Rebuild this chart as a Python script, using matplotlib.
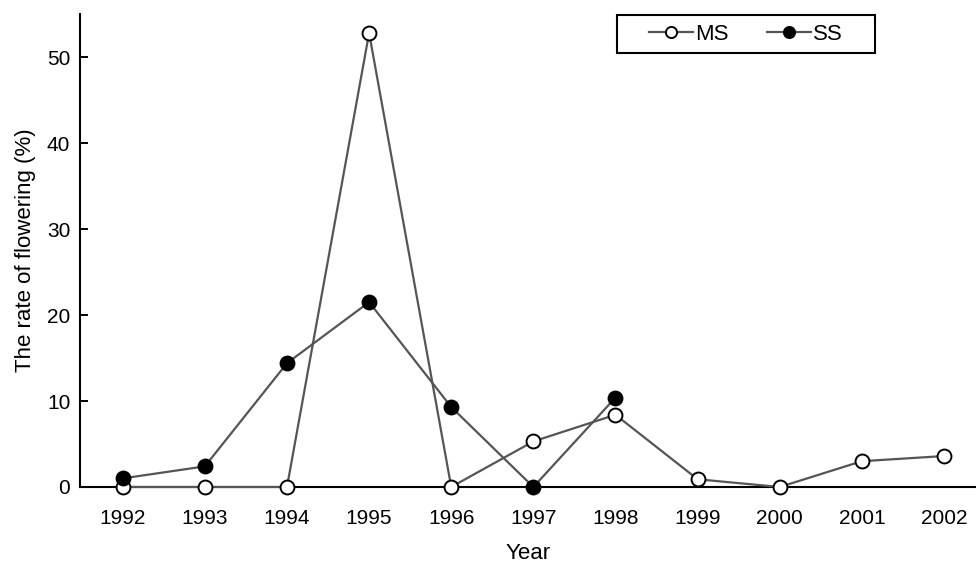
import matplotlib.pyplot as plt
from matplotlib.lines import Line2D
from matplotlib.patches import Rectangle

# flowering rate by year
years = [1992, 1993, 1994, 1995, 1996, 1997, 1998, 1999, 2000, 2001, 2002]
ms_rate = [0, 0, 0, 52.8, 0, 5.3, 8.4, 0.9, 0, 3.0, 3.6]
ss_years = [1992, 1993, 1994, 1995, 1996, 1997, 1998]
ss_rate = [1.0, 2.4, 14.4, 21.5, 9.3, 0, 10.4]

plt.rcParams['font.family'] = ['Liberation Sans', 'DejaVu Sans']

fig = plt.figure(figsize=(9.76, 5.63), dpi=100)
ax = fig.add_axes([0.082, 0.135, 0.918, 0.840])

line_col = '#555555'
style = dict(color=line_col, lw=1.6, marker='o', ms=10, mec='black', mew=1.4)
ax.plot(years, ms_rate, mfc='white', zorder=3, clip_on=False, **style)
ax.plot(ss_years, ss_rate, mfc='black', zorder=4, clip_on=False, **style)

ax.set_xlim(1991.48, 2002.39)
ax.set_ylim(0, 55)
ax.set_xticks(years)
ax.set_xticklabels([str(y) for y in years])
ax.set_yticks([0, 10, 20, 30, 40, 50])
ax.tick_params(axis='x', length=0, pad=16, labelsize=15)
ax.tick_params(axis='y', direction='in', length=6, width=1.4, labelsize=15, pad=7)

ax.spines['top'].set_visible(False)
ax.spines['right'].set_visible(False)
ax.spines['left'].set_linewidth(1.5)
ax.spines['bottom'].set_linewidth(1.5)

ax.set_xlabel('Year', fontsize=16, labelpad=11)
ax.set_ylabel('The rate of flowering (%)', fontsize=16, labelpad=8)

# legend without its own frame, boxed by a wider rectangle like the original
leg_style = dict(style, ms=8)
handles = [
    Line2D([], [], mfc='white', **leg_style),
    Line2D([], [], mfc='black', **leg_style),
]
ax.legend(handles, ['MS', 'SS'], loc='center', bbox_to_anchor=(0.7643, 0.9396),
          bbox_transform=fig.transFigure, ncol=2, fontsize=16, frameon=False,
          handlelength=2.0, handletextpad=0.1, columnspacing=1.7)
fig.patches.append(Rectangle((617 / 976, 1 - 53 / 563), 258 / 976, 38 / 563,
                             transform=fig.transFigure, fill=False,
                             edgecolor='black', lw=1.5))

fig.savefig('out.png', dpi=100)
